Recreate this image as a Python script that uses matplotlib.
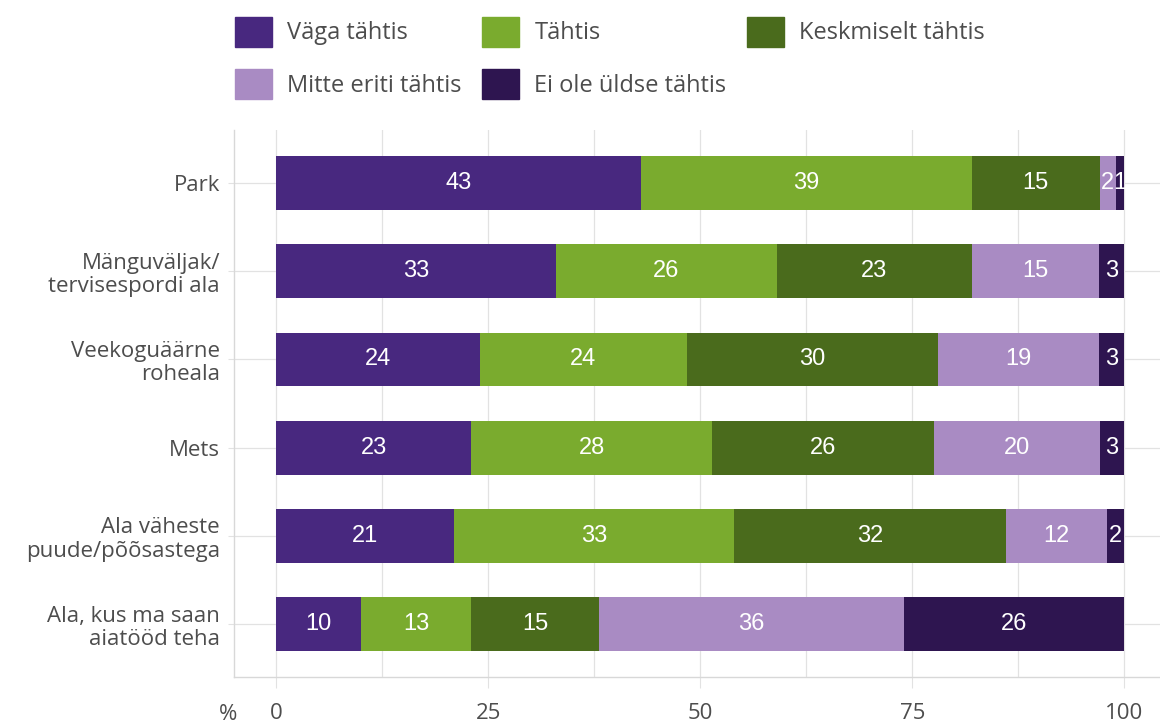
import numpy as np
import matplotlib.pyplot as plt
from matplotlib.patches import Patch

# categories (top to bottom) and series values in %
categories = ['Park', 'Mänguväljak/\ntervisespordi ala', 'Veekoguäärne\nroheala', 'Mets',
              'Ala väheste\npuude/põõsastega', 'Ala, kus ma saan\naiatööd teha']
vaga_tahtis = [43, 33, 24, 23, 21, 10]
tahtis = [39, 26, 24.4, 28.4, 33, 13]
keskmiselt = [15.1, 23, 29.6, 26.1, 32, 15]
mitte_eriti = [1.9, 15, 19, 19.6, 12, 36]
ei_ole = [1, 3, 3, 2.9, 2, 26]
series_names = ['Väga tähtis', 'Tähtis', 'Keskmiselt tähtis', 'Mitte eriti tähtis', 'Ei ole üldse tähtis']
colors = ['#48287f', '#7aab2e', '#4a6b1c', '#a98bc3', '#2e1550']
xticks = [0, 25, 50, 75, 100]

ui_font = ['Open Sans', 'DejaVu Sans']
num_font = ['Liberation Sans', 'DejaVu Sans']
grey = '#4d4d4d'
grid_c = '#e2e2e2'

fig = plt.figure(figsize=(11.6, 7.24), dpi=100)
ax = fig.add_axes([0.2017, 0.0649, 0.7983, 0.7555])

y = np.arange(len(categories))
left = np.zeros(len(categories))
handles = []
for name, vals, col in zip(series_names, [vaga_tahtis, tahtis, keskmiselt, mitte_eriti, ei_ole], colors):
    vals = np.array(vals, dtype=float)
    ax.barh(y, vals, left=left, height=0.61, color=col, zorder=3)
    for yi, l, v in zip(y, left, vals):
        ax.text(l + v / 2, yi, f'{v:.0f}', ha='center', va='center', color='white',
                fontsize=17, family=num_font, zorder=4)
    handles.append(Patch(color=col, label=name))
    left += vals

ax.set_xlim(-5, 104.2)
ax.set_ylim(len(categories) - 0.4, -0.6)
ax.set_yticks(y)
ax.set_yticklabels(categories, fontsize=16, color=grey, family=ui_font, linespacing=1.15)
ax.set_xticks(xticks)
ax.set_xticklabels([str(t) for t in xticks], fontsize=16, color=grey, family=ui_font)
ax.set_xticks(np.arange(12.5, 100, 25), minor=True)
ax.tick_params(axis='x', which='major', length=8, color=grid_c, pad=11)
ax.tick_params(axis='x', which='minor', length=0)
ax.tick_params(axis='y', length=4, color=grid_c, pad=6)
ax.grid(True, which='both', color=grid_c, linewidth=0.9, zorder=0)
for s in ['top', 'right']:
    ax.spines[s].set_visible(False)
for s in ['left', 'bottom']:
    ax.spines[s].set_color('#d8d8d8')
    ax.spines[s].set_linewidth(1.0)

fig.text(228 / 1160, 1 - 715 / 724, '%', fontsize=16, color=grey, family=ui_font,
         ha='center', va='center')

# legend in row order: reorder for column-major filling
order = [0, 3, 1, 4, 2]
fig.legend([handles[i] for i in order], [series_names[i] for i in order],
           loc='upper left', bbox_to_anchor=(218 / 1160, 1.0), ncol=3, frameon=False,
           prop={'family': ui_font, 'size': 17}, labelcolor=grey,
           handlelength=1.58, handleheight=1.58, handletextpad=0.65,
           columnspacing=0.85, labelspacing=0.95, borderaxespad=0.3)

fig.savefig('out.png', dpi=100)
